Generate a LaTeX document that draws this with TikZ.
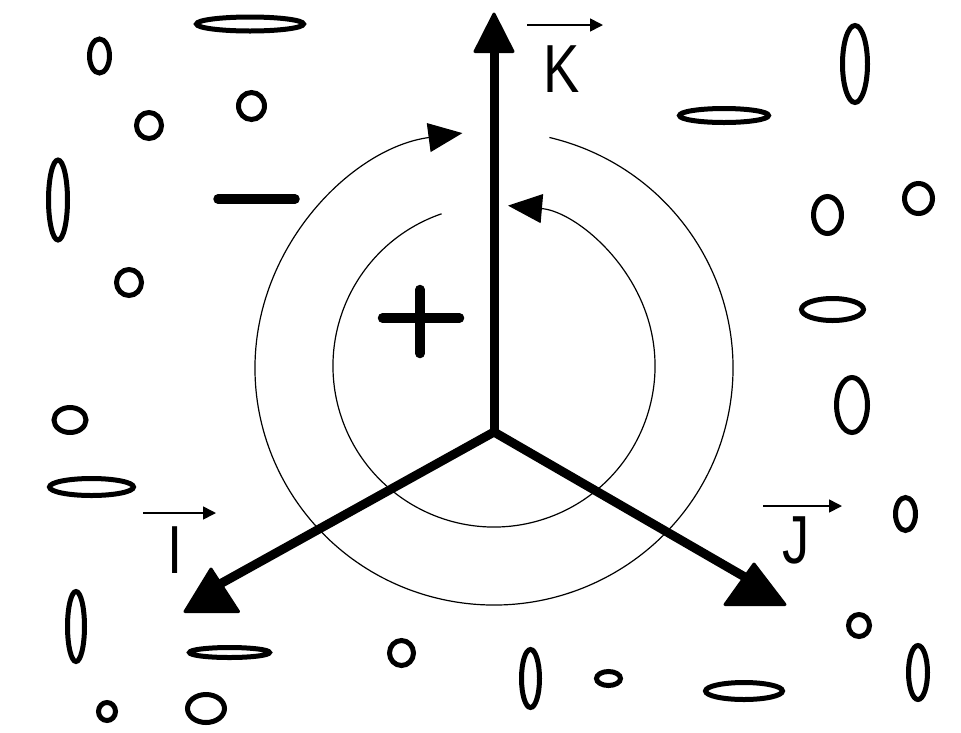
\documentclass[tikz,border=0pt]{standalone}
\usepackage{fontspec}
\setmainfont{Liberation Sans}
\usetikzlibrary{arrows.meta}
\tikzset{
  blob/.style={draw=black, line width=5pt},
  axis/.style={draw=black, line width=9pt, line join=miter},
  axhead/.style={draw=black, fill=black, line width=3pt, line join=round},
  orbit/.style={draw=black, line width=1.2pt, -{Triangle[length=34pt,width=29pt]}},
  vecbar/.style={draw=black, line width=1.6pt, -{Triangle[length=13pt,width=13pt]}},
  sign/.style={draw=black, line width=9.5pt, line cap=round},
  letter/.style={inner sep=0pt, anchor=base, font=\fontsize{68}{68}\selectfont}
}
\begin{document}
\begin{tikzpicture}[x=1pt, y=-1pt]
\useasboundingbox (0,0) rectangle (961,732);
\fill[white] (0,0) rectangle (961,732);

% --- orbit arcs
\draw[orbit] (494,368) ++(-76.6:239 and 237) arc[start angle=-76.6, end angle=262.4, x radius=239, y radius=237];
\draw[orbit] (494,366) ++(-109:161 and 161) arc[start angle=-109, end angle=-445, x radius=161, y radius=161];

% --- axes
\coordinate (O) at (494,432);
\coordinate (Kend) at (494,50);
\coordinate (Iend) at (220,584);
\coordinate (Jend) at (750,580);
\draw[axis] (Iend) -- (O) -- (Jend);
\draw[axis] (O) -- (Kend);
\filldraw[axhead] (494,14) -- (513,51.5) -- (475,51.5) -- cycle;
\filldraw[axhead] (211,569) -- (238.5,611.5) -- (185,611.5) -- cycle;
\filldraw[axhead] (754,564) -- (785,604.5) -- (725,604.5) -- cycle;

% --- labels with vector bars
\node[letter] (K) at (561.5,92) {\scalebox{0.8}[1]{K}};
\node[letter] (I) at (175,573) {\scalebox{0.8}[1]{I}};
\node[letter] (J) at (796.5,563) {\scalebox{0.8}[1]{J}};
\coordinate (Ka) at (527,25);  \coordinate (Kb) at (603,25);
\coordinate (Ia) at (143,513); \coordinate (Ib) at (216,513);
\coordinate (Ja) at (763,506); \coordinate (Jb) at (842,506);
\draw[vecbar] (Ka) -- (Kb);
\draw[vecbar] (Ia) -- (Ib);
\draw[vecbar] (Ja) -- (Jb);

% --- plus and minus
\draw[sign] (218,199) -- (295,199);
\draw[sign] (382.5,318) -- (459.5,318);
\draw[sign] (420,289.5) -- (420,353.5);

% --- scattered particles
\draw[blob] (250,24) ellipse [x radius=53.5, y radius=7];
\draw[blob] (99.5,56) ellipse [x radius=10, y radius=17];
\draw[blob] (251.5,106) ellipse [x radius=13, y radius=13.5];
\draw[blob] (149,125.5) ellipse [x radius=12.5, y radius=13];
\draw[blob] (58,200) ellipse [x radius=9.5, y radius=40];
\draw[blob] (129,282.5) ellipse [x radius=12.5, y radius=13];
\draw[blob] (70,420) ellipse [x radius=16, y radius=12.5];
\draw[blob] (91.5,487) ellipse [x radius=42, y radius=8.5];
\draw[blob] (76,626.5) ellipse [x radius=8.5, y radius=35];
\draw[blob] (229.5,652.5) ellipse [x radius=40, y radius=5];
\draw[blob] (401.5,653) ellipse [x radius=12, y radius=12.5];
\draw[blob] (107,711.5) ellipse [x radius=8.5, y radius=9];
\draw[blob] (206,708.5) ellipse [x radius=18.5, y radius=14];
\draw[blob] (530.5,678.5) ellipse [x radius=9, y radius=29];
\draw[blob] (608.5,678.5) ellipse [x radius=12, y radius=7];
\draw[blob] (744,691) ellipse [x radius=38.5, y radius=8.5];
\draw[blob] (918,672.5) ellipse [x radius=9.5, y radius=27];
\draw[blob] (859,625.5) ellipse [x radius=10.5, y radius=11];
\draw[blob] (905.5,514) ellipse [x radius=10, y radius=16.5];
\draw[blob] (852,405) ellipse [x radius=15.5, y radius=27.5];
\draw[blob] (832.5,309.5) ellipse [x radius=31, y radius=11];
\draw[blob] (827.5,215) ellipse [x radius=14, y radius=18.5];
\draw[blob] (918.5,198.5) ellipse [x radius=14, y radius=15];
\draw[blob] (724,115.5) ellipse [x radius=44.5, y radius=7];
\draw[blob] (855,64) ellipse [x radius=12.5, y radius=38.5];
\end{tikzpicture}
\end{document}
